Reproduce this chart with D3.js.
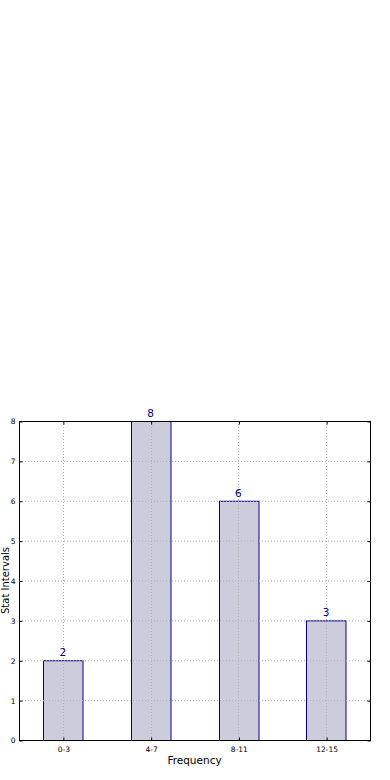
<!DOCTYPE html>
<html><head><meta charset="utf-8">
<script src="https://cdn.jsdelivr.net/npm/d3@7"></script>
<style>body{margin:0;background:#fff}svg{display:block}</style>
</head><body>
<script>
const categories = ["0-3","4-7","8-11","12-15"];
const values = [2,8,6,3];
const yTicks = [0,1,2,3,4,5,6,7,8];

const W=390,H=780;
const m={left:19,right:370,top:421,bottom:740};
const svg=d3.select("body").append("svg").attr("width",W).attr("height",H);
const x=d3.scaleLinear().domain([-0.5,3.5]).range([m.left,m.right]);
const y=d3.scaleLinear().domain([0,8]).range([m.bottom,m.top]);
const step=x(1)-x(0), bw=step*0.45;
const font="DejaVu Sans, sans-serif";

// grid
const g=svg.append("g");
g.selectAll(".gy").data(yTicks.slice(1,-1)).join("line")
 .attr("x1",m.left).attr("x2",m.right).attr("y1",d=>y(d)+0.5).attr("y2",d=>y(d)+0.5)
 .attr("stroke","#b0b0b0").attr("stroke-dasharray","1,2");
// bars
svg.selectAll(".bar").data(values).join("rect")
 .attr("x",(d,i)=>Math.round(x(i)-bw/2)+0.5).attr("y",d=>y(d)+0.5)
 .attr("width",bw).attr("height",d=>y(0)-y(d))
 .attr("fill","#ccccdd").attr("stroke","#00008b").attr("stroke-width",1);
g.raise();
g.selectAll(".gx").data(categories).join("line")
 .attr("x1",(d,i)=>Math.round(x(i))+0.5).attr("x2",(d,i)=>Math.round(x(i))+0.5)
 .attr("y1",m.top).attr("y2",m.bottom)
 .attr("stroke","#b0b0b0").attr("stroke-dasharray","1,2");
// value labels
svg.selectAll(".vl").data(values).join("text")
 .attr("x",(d,i)=>x(i)).attr("y",d=>y(d)-4).attr("text-anchor","middle")
 .attr("font-family",font).attr("font-size",10.5).attr("fill","#00008b").text(d=>d);
// frame
svg.append("rect").attr("x",m.left+0.5).attr("y",m.top+0.5)
 .attr("width",m.right-m.left).attr("height",m.bottom-m.top)
 .attr("fill","none").attr("stroke","#000").attr("stroke-width",1);
// axes
const ya=svg.append("g").attr("transform",`translate(${m.left+0.5},0.5)`)
 .call(d3.axisLeft(y).tickValues(yTicks).tickSize(-3).tickPadding(4).tickFormat(d3.format("d")));
ya.select(".domain").remove();
ya.selectAll("text").attr("font-family",font).attr("font-size",7.5).attr("fill","#000");
const yr=svg.append("g").attr("transform",`translate(${m.right+0.5},0.5)`)
 .call(d3.axisRight(y).tickValues(yTicks).tickSize(-3).tickFormat(""));
yr.select(".domain").remove();
const xa=svg.append("g").attr("transform",`translate(0.5,${m.bottom+0.5})`)
 .call(d3.axisBottom(x).tickValues([0,1,2,3]).tickSize(-3).tickPadding(6).tickFormat((d)=>categories[d]));
xa.select(".domain").remove();
xa.selectAll("text").attr("font-family",font).attr("font-size",7.5).attr("fill","#000");
const xt=svg.append("g").attr("transform",`translate(0.5,${m.top+0.5})`)
 .call(d3.axisTop(x).tickValues([0,1,2,3]).tickSize(-3).tickFormat(""));
xt.select(".domain").remove();
svg.selectAll(".tick line").attr("stroke","#000");
// axis titles
svg.append("text").attr("x",(m.left+m.right)/2).attr("y",764).attr("text-anchor","middle")
 .attr("font-family",font).attr("font-size",10.5).text("Frequency");
svg.append("text").attr("transform",`translate(8.5,${(m.top+m.bottom)/2}) rotate(-90)`)
 .attr("text-anchor","middle").attr("font-family",font).attr("font-size",10).text("Stat Intervals");
</script>
</body></html>
